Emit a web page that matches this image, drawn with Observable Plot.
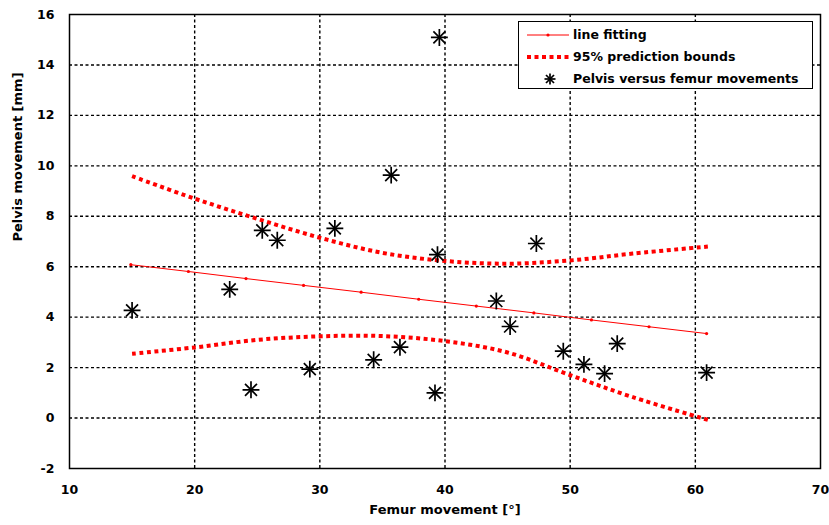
<!DOCTYPE html>
<html><head><meta charset="utf-8">
<script src="https://cdn.jsdelivr.net/npm/d3@7"></script>
<script src="https://cdn.jsdelivr.net/npm/@observablehq/plot@0.6"></script>
<style>
body{margin:0;background:#fff;overflow:hidden;}
#wrap{position:relative;width:829px;height:525px;font-family:"DejaVu Sans",Verdana,sans-serif;}
#wrap svg{overflow:visible;}
#legend{position:absolute;left:518px;top:21px;width:293px;height:66px;border:1.5px solid #000;background:#fff;}
#legend .row{position:absolute;left:0;width:100%;height:20px;}
#legend .sample{position:absolute;left:6px;top:0;}
#legend .lab{position:absolute;left:54px;top:1px;font-size:12.5px;font-weight:bold;color:#000;white-space:nowrap;line-height:18px;}
</style>
</head><body><div id="wrap"></div><script>
// Scatter data: femur movement [°] vs pelvis movement [mm]
const femur  = [15.0, 22.8, 24.5, 25.4, 26.6, 29.2, 31.2, 34.3, 35.7, 36.4, 39.2, 39.4, 39.55, 44.1, 45.2, 47.3, 49.45, 51.1, 52.75, 53.76, 60.9];
const pelvis = [4.27, 5.10, 1.12, 7.44, 7.05, 1.94, 7.52, 2.31, 9.63, 2.81, 1.00, 6.48, 15.09, 4.64, 3.63, 6.92, 2.65, 2.13, 1.76, 2.95, 1.80];
// Fitted line (with markers)
const fitX = [14.9, 19.5, 24.1, 28.7, 33.3, 37.9, 42.5, 47.1, 51.7, 56.3, 60.9];
const fitY = [6.08, 5.81, 5.53, 5.26, 4.99, 4.71, 4.44, 4.17, 3.89, 3.62, 3.35];
// 95% prediction bounds
const boundX = [15, 20, 25, 30, 35, 40, 45, 50, 55, 61];
const upperY = [9.59, 8.70, 7.90, 7.15, 6.55, 6.23, 6.12, 6.25, 6.52, 6.80];
const lowerY = [2.55, 2.80, 3.10, 3.24, 3.25, 3.05, 2.60, 1.70, 0.83, -0.07];
// Ticks and labels
const xTicks = [10, 20, 30, 40, 50, 60, 70];
const yTicks = [-2, 0, 2, 4, 6, 8, 10, 12, 14, 16];
const xTitle = "Femur movement [°]";
const yTitle = "Pelvis movement [mm]";
const legendLabels = ["line fitting", "95% prediction bounds", "Pelvis versus femur movements"];

const points = femur.map((x, i) => ({x, y: pelvis[i]}));
const fit = fitX.map((x, i) => ({x, y: fitY[i]}));
const upper = boundX.map((x, i) => ({x, y: upperY[i]}));
const lower = boundX.map((x, i) => ({x, y: lowerY[i]}));
const RED = "#ff0000";
const gridStyle = {stroke: "#000", strokeOpacity: 1, strokeWidth: 1.4, strokeDasharray: "3,2.5"};
const boundStyle = {x: "x", y: "y", stroke: RED, strokeWidth: 4, strokeDasharray: "4,3.5", strokeLinecap: "butt", curve: "catmull-rom"};
const fmt = d => String(d);

const chart = Plot.plot({
  width: 829, height: 525,
  marginLeft: 69, marginRight: 9, marginTop: 14, marginBottom: 57,
  style: {fontFamily: "'DejaVu Sans', Verdana, sans-serif", fontSize: "12.5px", fontWeight: "bold", color: "#000", background: "#fff"},
  x: {domain: [10, 70]},
  y: {domain: [-2, 16]},
  marks: [
    Plot.gridX(xTicks.slice(1, -1), gridStyle),
    Plot.gridY(yTicks.slice(1, -1), gridStyle),
    Plot.line(upper, boundStyle),
    Plot.line(lower, boundStyle),
    Plot.line(fit, {x: "x", y: "y", stroke: RED, strokeWidth: 1}),
    Plot.dot(fit, {x: "x", y: "y", r: 1.6, fill: RED}),
    Plot.dot(points, {x: "x", y: "y", symbol: "plus", r: 5.5, stroke: "#000", strokeWidth: 1.7}),
    Plot.dot(points, {x: "x", y: "y", symbol: "times", r: 5.5, stroke: "#000", strokeWidth: 1.7}),
    Plot.frame({stroke: "#000", strokeWidth: 1.5}),
    Plot.axisX(xTicks, {tickSize: 0, tickPadding: 17, label: null, tickFormat: fmt}),
    Plot.axisY(yTicks, {tickSize: 0, tickPadding: 15, label: null, tickFormat: fmt}),
    Plot.text([xTitle], {text: d => d, frameAnchor: "bottom", dy: 45, fontSize: 13}),
    Plot.text([yTitle], {text: d => d, frameAnchor: "left", dx: -52, rotate: -90, fontSize: 13})
  ]
});
const wrap = document.getElementById("wrap");
wrap.appendChild(chart);

// Legend overlay
const legend = document.createElement("div");
legend.id = "legend";
const rowTops = [3, 25, 47];
const samples = [
  `<svg class="sample" width="46" height="20"><line x1="2" y1="10" x2="44" y2="10" stroke="${RED}" stroke-width="1"/><circle cx="23" cy="10" r="1.6" fill="${RED}"/></svg>`,
  `<svg class="sample" width="46" height="20"><line x1="2" y1="10" x2="44" y2="10" stroke="${RED}" stroke-width="4" stroke-dasharray="4,3.5"/></svg>`,
  `<svg class="sample" width="46" height="20"><g stroke="#000" stroke-width="1.7"><line x1="25" y1="4.5" x2="25" y2="15.5"/><line x1="19.5" y1="10" x2="30.5" y2="10"/><line x1="21" y1="6" x2="29" y2="14"/><line x1="21" y1="14" x2="29" y2="6"/></g></svg>`
];
legendLabels.forEach((t, i) => {
  const row = document.createElement("div");
  row.className = "row";
  row.style.top = rowTops[i] + "px";
  row.innerHTML = samples[i] + `<span class="lab">${t}</span>`;
  legend.appendChild(row);
});
wrap.appendChild(legend);
</script></body></html>
